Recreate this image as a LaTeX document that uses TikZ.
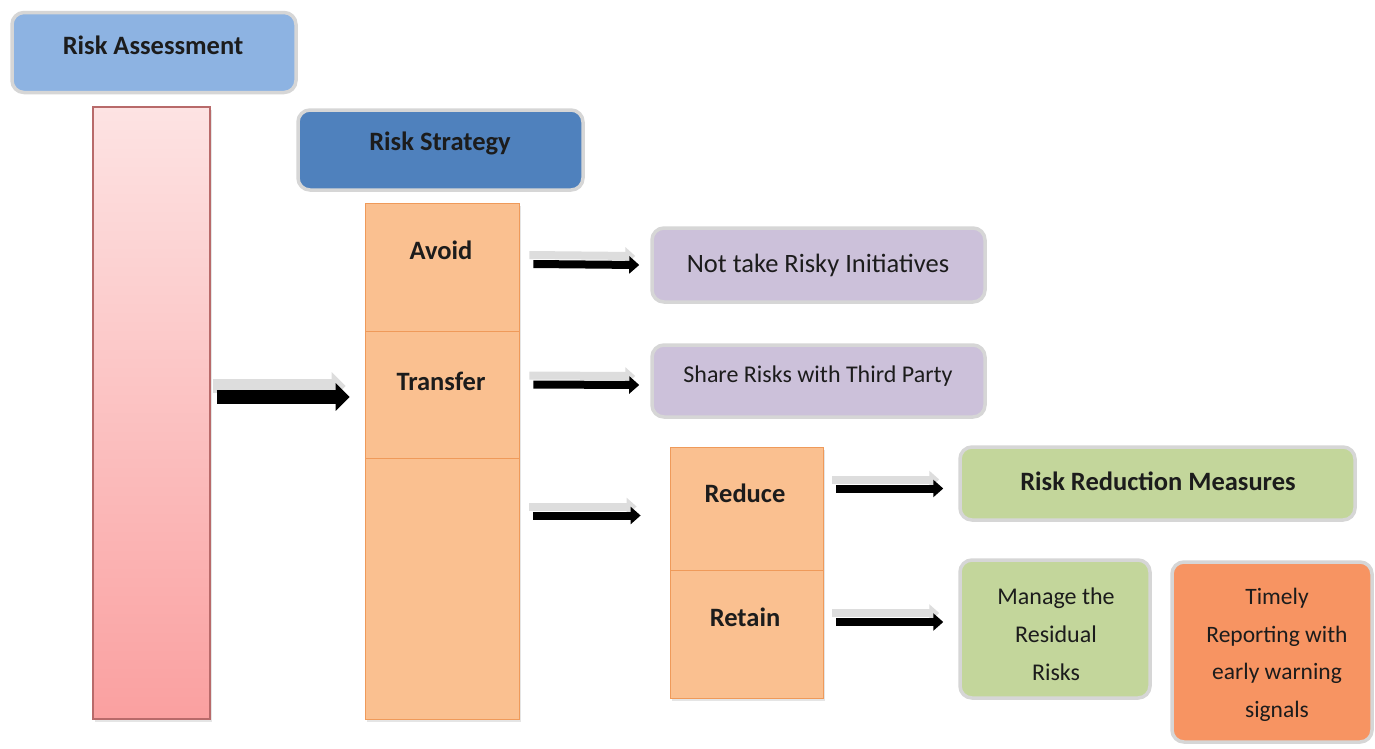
\documentclass[tikz,border=0pt]{standalone}
\usepackage{fontspec}
\setmainfont{Carlito}
\usetikzlibrary{arrows.meta,calc,shadows}
\definecolor{assess}{HTML}{8DB3E2}
\definecolor{strat}{HTML}{4F81BD}
\definecolor{sectfill}{HTML}{FAC090}
\definecolor{sectdraw}{HTML}{EF9A5A}
\definecolor{purp}{HTML}{CCC1DA}
\definecolor{grn}{HTML}{C3D69B}
\definecolor{org}{HTML}{F79462}
\definecolor{pinkT}{HTML}{FDE3E3}
\definecolor{pinkB}{HTML}{FAA0A0}
\definecolor{pinkD}{HTML}{B86A6A}
\definecolor{rimc}{HTML}{D6D6D6}
\definecolor{shad}{HTML}{DDDDDD}
\definecolor{txt}{HTML}{1C1C1C}
\newcommand{\shadarrow}[4]{%
  \draw[#1, draw=shad, transform canvas={shift={(-4pt,#4)}}] #2 -- #3;
  \draw[#1] #2 -- #3;}
\begin{document}
\begin{tikzpicture}[x=1pt,y=-1pt,
  rbox/.style={rounded corners=12pt, draw=rimc, line width=3.5pt, inner sep=0pt},
  sect/.style={draw=sectdraw, fill=sectfill, line width=0.8pt, inner sep=0pt,
    drop shadow={opacity=0.2, shadow xshift=2pt, shadow yshift=-3pt}},
  hd/.style={font=\fontsize{26.5}{30}\selectfont\bfseries, text=txt},
  tx/.style={font=\fontsize{24}{38}\selectfont, text=txt, align=center},
  bigarr/.style={line width=14pt, -{Triangle[length=14pt,width=27pt]}},
  smarr/.style={line width=8pt, -{Triangle[length=10pt,width=17pt]}}
]
\useasboundingbox[fill=white] (0,0) rectangle (1375,748);

% boxes
\node[rbox, fill=assess, minimum width=284pt, minimum height=80pt] (assess) at (154,52.5) {};
\node[hd] (assessT) at (153,45) {Risk Assessment};

\node[draw=pinkD, line width=1.2pt, top color=pinkT, bottom color=pinkB,
  minimum width=117pt, minimum height=612pt, inner sep=0pt,
  drop shadow={opacity=0.2, shadow xshift=2pt, shadow yshift=-3pt}] (bar) at (151.5,413) {};

\node[rbox, fill=strat, minimum width=285pt, minimum height=80pt] (strat) at (440.5,150) {};
\node[hd] (stratT) at (440,143) {Risk Strategy};

\node[sect, minimum width=154pt, minimum height=128pt] (avoid) at (442,267) {};
\node[sect, minimum width=154pt, minimum height=127pt] (transfer) at (442,394.5) {};
\node[sect, minimum width=154pt, minimum height=261pt] (keep) at (442,588.5) {};
\node[hd] (avoidT) at (441,250) {Avoid};
\node[hd] (transferT) at (441,381) {Transfer};

\node[rbox, fill=purp, minimum width=333pt, minimum height=74pt] (notake) at (818.5,265) {};
\node[tx, font=\fontsize{26.5}{30}\selectfont] (notakeT) at (818,265) {Not take Risky Initiatives};
\node[rbox, fill=purp, minimum width=333pt, minimum height=72pt] (share) at (818.5,381) {};
\node[tx, font=\fontsize{24}{28}\selectfont] (shareT) at (818,376) {Share Risks with Third Party};

\node[sect, minimum width=153pt, minimum height=123pt] (reduce) at (746.5,508.5) {};
\node[sect, minimum width=153pt, minimum height=128pt] (retain) at (746.5,634) {};
\node[hd] (reduceT) at (745,493) {Reduce};
\node[hd] (retainT) at (745,617) {Retain};

\node[rbox, fill=grn, minimum width=395pt, minimum height=73pt] (rrm) at (1157.5,483.5) {};
\node[hd] (rrmT) at (1158,481) {Risk Reduction Measures};

\node[rbox, fill=grn, minimum width=190pt, minimum height=138pt] (manage) at (1055,629) {};
\node[tx] (manageT) at (1056,634) {Manage the\\Residual\\Risks};

\node[rbox, fill=org, minimum width=200pt, minimum height=180pt] (timely) at (1272,652) {};
\node[tx, font=\fontsize{23.5}{37.5}\selectfont] (timelyT) at (1277,655) {Timely\\Reporting with\\early warning\\signals};

% arrows
\shadarrow{bigarr}{($(bar.east)+(6,-16)$)}{($(transfer.west)+(-15,2.5)$)}{11pt}
\shadarrow{smarr}{($(avoid.east)+(14,-3)$)}{($(notake.west)+(-11,0)$)}{9pt}
\shadarrow{smarr}{($(transfer.east)+(14,-10)$)}{($(share.west)+(-11,4)$)}{9pt}
\shadarrow{smarr}{($(keep.east)+(14,-73)$)}{($(reduce.west)+(-29,7)$)}{9pt}
\shadarrow{smarr}{($(reduce.east)+(13,-20)$)}{($(rrm.west)+(-15,5)$)}{9pt}
\shadarrow{smarr}{($(retain.east)+(13,-12)$)}{($(manage.west)+(-15,-7)$)}{9pt}
\end{tikzpicture}
\end{document}
